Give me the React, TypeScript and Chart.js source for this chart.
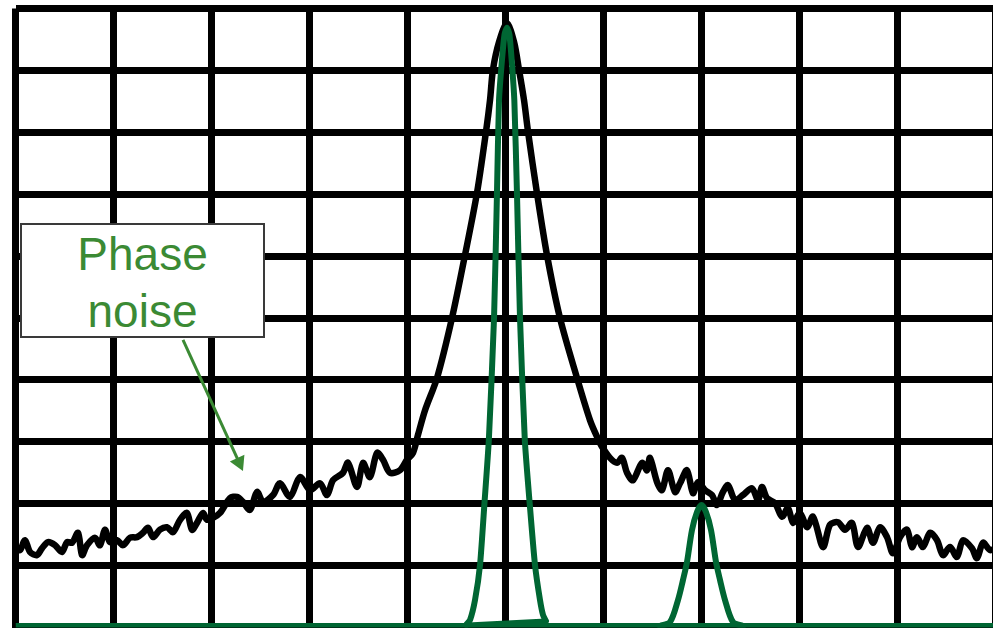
import React, { useEffect, useRef } from "react";
import { Chart, registerables } from "chart.js";

Chart.register(...registerables);

// Horizontal axis: frequency, in grid divisions (0..10). Vertical axis: level, in grid divisions (0..10).
const gridMin = 0;
const gridMax = 10;
const gridStep = 1;

// Black trace: measured spectrum with phase noise skirts
const noiseX = [
  0, 0.046, 0.097, 0.148, 0.219, 0.27, 0.332, 0.403, 0.474, 0.526, 0.577, 0.638, 0.679, 0.73, 0.811, 0.862,
  0.913, 0.964, 1.036, 1.097, 1.168, 1.24, 1.301, 1.352, 1.403, 1.474, 1.546, 1.607, 1.679, 1.75, 1.801, 1.852,
  1.913, 1.954, 2.015, 2.087, 2.189, 2.26, 2.321, 2.393, 2.464, 2.526, 2.628, 2.699, 2.801, 2.903, 3.005, 3.107,
  3.179, 3.24, 3.342, 3.393, 3.485, 3.546, 3.617, 3.689, 3.75, 3.821, 3.923, 3.995, 4.056, 4.107, 4.179, 4.301,
  4.454, 4.587, 4.709, 4.801, 4.842, 4.872, 4.934, 5.015, 5.087, 5.138, 5.189, 5.23, 5.321, 5.423, 5.556, 5.73,
  5.862, 5.934, 5.985, 6.066, 6.138, 6.189, 6.24, 6.301, 6.393, 6.444, 6.474, 6.546, 6.597, 6.658, 6.73, 6.781,
  6.852, 6.913, 6.964, 7.036, 7.107, 7.158, 7.219, 7.27, 7.342, 7.423, 7.515, 7.577, 7.617, 7.668, 7.75, 7.821,
  7.883, 7.934, 8.005, 8.077, 8.138, 8.24, 8.311, 8.393, 8.464, 8.536, 8.597, 8.689, 8.75, 8.821, 8.893, 8.954,
  9.026, 9.097, 9.148, 9.199, 9.26, 9.332, 9.403, 9.464, 9.536, 9.607, 9.668, 9.76, 9.811, 9.872, 9.944, 10,
];
const noiseY = [
  1.28, 1.25, 1.41, 1.22, 1.17, 1.28, 1.38, 1.33, 1.22, 1.38, 1.37, 1.53, 1.17, 1.33, 1.45, 1.33,
  1.58, 1.38, 1.41, 1.33, 1.45, 1.46, 1.53, 1.61, 1.46, 1.58, 1.62, 1.54, 1.74, 1.85, 1.58, 1.69,
  1.85, 1.74, 1.77, 1.85, 2.09, 2.11, 2.03, 1.9, 2.19, 2.03, 2.14, 2.33, 2.11, 2.43, 2.22, 2.33,
  2.14, 2.38, 2.5, 2.66, 2.27, 2.66, 2.43, 2.82, 2.71, 2.5, 2.54, 2.71, 2.82, 3.11, 3.51, 4.03,
  5.0, 6.02, 7.02, 8.01, 8.52, 9.01, 9.46, 9.76, 9.46, 9.01, 8.52, 8.01, 7.02, 6.02, 5.0, 4.03,
  3.35, 3.08, 2.92, 2.74, 2.66, 2.74, 2.5, 2.38, 2.66, 2.54, 2.74, 2.35, 2.22, 2.54, 2.19, 2.33,
  2.54, 2.17, 2.35, 2.22, 2.14, 1.98, 2.19, 2.3, 2.06, 2.14, 2.25, 2.06, 2.27, 2.09, 2.01, 1.79,
  1.93, 1.69, 1.85, 1.62, 1.79, 1.3, 1.66, 1.7, 1.58, 1.69, 1.3, 1.61, 1.37, 1.62, 1.46, 1.2,
  1.46, 1.58, 1.3, 1.46, 1.3, 1.53, 1.41, 1.17, 1.3, 1.14, 1.41, 1.28, 1.12, 1.37, 1.25, 1.28,
];

// Green trace: ideal spectrum (carrier + spur)
const baselineX = [0, 10];
const baselineY = [0.024, 0.024];

const carrierX = [
  4.597, 4.638, 4.689, 4.74, 4.785, 4.83, 4.883, 4.913, 4.934, 4.964, 4.99, 5.015, 5.04, 5.063,
  5.09, 5.117, 5.148, 5.197, 5.247, 5.301, 5.352, 5.383, 5.413,
];
const carrierY = [
  0.04, 0.121, 0.444, 1.01, 2.0, 3.03, 5.0, 7.019, 8.522, 9.168, 9.58, 9.69, 9.58, 9.168,
  8.522, 7.019, 5.0, 3.03, 2.0, 1.01, 0.444, 0.202, 0.105,
];

const chordX = [5.413, 4.617];
const chordY = [0.105, 0.04];

const spurX = [6.577, 6.679, 6.76, 6.811, 6.852, 6.903, 6.954, 7.0, 7.046, 7.097, 7.148, 7.189, 7.24, 7.321, 7.423];
const spurY = [0.024, 0.089, 0.444, 0.767, 1.058, 1.575, 1.866, 1.979, 1.866, 1.575, 1.058, 0.767, 0.444, 0.089, 0.024];

// Annotation arrow, in data units
const arrowFromX = 1.709;
const arrowFromY = 4.645;
const arrowToX = 2.321;
const arrowToY = 2.53;

const annotationLines = ["Phase", "noise"];

const GREEN = "#006633";
const LABEL_GREEN = "#3b8a34";

function pts(xs: number[], ys: number[]) {
  return xs.map((x, i) => ({ x, y: ys[i] }));
}

const arrowPlugin = {
  id: "phaseNoiseArrow",
  afterDatasetsDraw(chart: any) {
    const { ctx, scales } = chart;
    const x0 = scales.x.getPixelForValue(arrowFromX);
    const y0 = scales.y.getPixelForValue(arrowFromY);
    const x1 = scales.x.getPixelForValue(arrowToX);
    const y1 = scales.y.getPixelForValue(arrowToY);
    const dx = x1 - x0;
    const dy = y1 - y0;
    const len = Math.hypot(dx, dy);
    const ux = dx / len;
    const uy = dy / len;
    const headLen = 14;
    const headHalf = 8;
    const bx = x1 - ux * headLen;
    const by = y1 - uy * headLen;
    ctx.save();
    ctx.strokeStyle = LABEL_GREEN;
    ctx.fillStyle = LABEL_GREEN;
    ctx.lineWidth = 3;
    ctx.beginPath();
    ctx.moveTo(x0, y0);
    ctx.lineTo(bx + ux * 2, by + uy * 2);
    ctx.stroke();
    ctx.beginPath();
    ctx.moveTo(x1, y1);
    ctx.lineTo(bx - uy * headHalf, by + ux * headHalf);
    ctx.lineTo(bx + uy * headHalf, by - ux * headHalf);
    ctx.closePath();
    ctx.fill();
    ctx.restore();
  },
};

export default function App() {
  const canvasRef = useRef<HTMLCanvasElement | null>(null);

  useEffect(() => {
    const canvas = canvasRef.current;
    if (!canvas) return;
    const greenLine = {
      borderColor: GREEN,
      borderWidth: 6,
      pointRadius: 0,
      showLine: true,
      fill: false,
      borderJoinStyle: "round" as const,
      borderCapStyle: "round" as const,
    };
    const chart = new Chart(canvas, {
      type: "scatter",
      data: {
        datasets: [
          {
            label: "Measured spectrum",
            data: pts(noiseX, noiseY),
            borderColor: "#000000",
            borderWidth: 6.5,
            pointRadius: 0,
            showLine: true,
            tension: 0.3,
            borderJoinStyle: "round",
            borderCapStyle: "round",
            order: 2,
          },
          { label: "Baseline", data: pts(baselineX, baselineY), ...greenLine, borderCapStyle: "butt", tension: 0, order: 1 },
          { label: "Carrier", data: pts(carrierX, carrierY), ...greenLine, tension: 0.2, order: 1 },
          { label: "Carrier base", data: pts(chordX, chordY), ...greenLine, borderWidth: 5, tension: 0, order: 1 },
          { label: "Spur", data: pts(spurX, spurY), ...greenLine, tension: 0.3, order: 1 },
        ],
      },
      options: {
        responsive: false,
        animation: false,
        events: [],
        layout: { padding: { left: 15.5, right: 4.5, top: 8.5, bottom: 0.5 } },
        plugins: {
          legend: { display: false },
          tooltip: { enabled: false },
          title: { display: false },
        },
        scales: {
          x: {
            type: "linear",
            min: gridMin,
            max: gridMax,
            ticks: { display: false, stepSize: gridStep },
            grid: { color: "#000000", lineWidth: 7, drawTicks: false },
            border: { display: false },
          },
          y: {
            type: "linear",
            min: gridMin,
            max: gridMax,
            ticks: { display: false, stepSize: gridStep },
            grid: { color: "#000000", lineWidth: 7, drawTicks: false },
            border: { display: false },
          },
        },
      },
      plugins: [arrowPlugin],
    });
    return () => chart.destroy();
  }, []);

  return (
    <div
      style={{
        position: "fixed",
        left: 0,
        top: 0,
        width: 993,
        height: 628,
        overflow: "hidden",
        background: "#ffffff",
      }}
    >
      <canvas ref={canvasRef} width={1000} height={628} style={{ width: 1000, height: 628, display: "block" }} />
      <div
        style={{
          position: "absolute",
          left: 20,
          top: 223,
          width: 245,
          height: 115,
          boxSizing: "border-box",
          border: "2px solid #3a3a3a",
          background: "#ffffff",
          color: LABEL_GREEN,
          fontFamily: "'Liberation Sans', Arial, sans-serif",
          fontSize: 46,
          lineHeight: "46px",
          textAlign: "center",
        }}
      >
        <div style={{ position: "absolute", left: 0, right: 0, top: 6 }}>{annotationLines[0]}</div>
        <div style={{ position: "absolute", left: 0, right: 0, top: 63 }}>{annotationLines[1]}</div>
      </div>
    </div>
  );
}
